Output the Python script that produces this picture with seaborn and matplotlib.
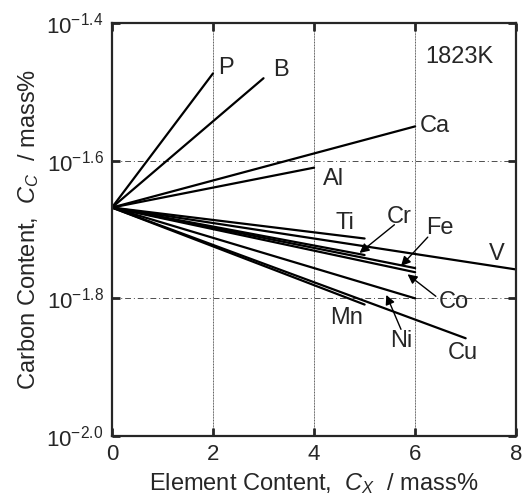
import pandas as pd
import seaborn as sns
import matplotlib.pyplot as plt

# Effect of element X on carbon solubility at 1823K (log10 of C mass%)
elements = ['P', 'B', 'Ca', 'Al', 'Ti', 'Cr', 'V', 'Fe', 'Co', 'Ni', 'Mn', 'Cu']
x_end = [2, 3, 6, 4, 5, 5, 8, 6, 6, 6, 5, 7]
logc_end = [-1.473, -1.480, -1.550, -1.610, -1.713, -1.737, -1.758, -1.756, -1.762, -1.800, -1.809, -1.858]
logc_start = -1.668

rows = []
for el, xe, ye in zip(elements, x_end, logc_end):
    rows.append({'element': el, 'x': 0, 'c': 10 ** logc_start})
    rows.append({'element': el, 'x': xe, 'c': 10 ** ye})
df = pd.DataFrame(rows)

sns.set_style('ticks')
plt.rcParams['font.family'] = ['Liberation Sans', 'DejaVu Sans']
plt.rcParams['mathtext.fontset'] = 'custom'
plt.rcParams['mathtext.rm'] = 'Liberation Sans'
plt.rcParams['mathtext.it'] = 'Liberation Sans:italic'

fig = plt.figure(figsize=(5.23, 5.04), dpi=100)
ax = fig.add_axes([0.214, 0.135, 0.773, 0.819])

sns.lineplot(data=df, x='x', y='c', units='element', estimator=None,
             color='black', lw=1.6, ax=ax)

ax.set_yscale('log')
ax.set_xlim(0, 8)
ax.set_ylim(10 ** -2.0, 10 ** -1.4)

yt = [-2.0, -1.8, -1.6, -1.4]
ax.set_yticks([10 ** v for v in yt])
ax.set_yticklabels([f'$10^{{{v:.1f}}}$' for v in yt])
ax.minorticks_off()
ax.set_xticks([0, 2, 4, 6, 8])

for xv in [2, 4, 6]:
    ax.axvline(xv, color='0.35', lw=0.7, ls=(0, (1, 0.6)), zorder=0)
for v in [-1.8, -1.6]:
    ax.axhline(10 ** v, color='0.3', lw=0.7, ls=(0, (6, 3, 1, 3)), zorder=0)

ax.tick_params(direction='in', length=6, width=2, labelsize=16, pad=6,
               top=True, right=True)
for s in ax.spines.values():
    s.set_linewidth(1.6)

ax.set_xlabel('Element Content,  $C_X$  / mass%', fontsize=17, labelpad=4)
ax.set_ylabel('Carbon Content,  $C_C$  / mass%', fontsize=17, labelpad=4)

fs = 17
labels = {
    'P': (2.26, -1.465), 'B': (3.34, -1.468), 'Ca': (6.1, -1.55),
    'Al': (4.18, -1.626), 'Ti': (4.61, -1.690), 'Cr': (5.69, -1.681),
    'Fe': (6.48, -1.6975), 'V': (7.62, -1.736), 'Co': (6.77, -1.806),
    'Ni': (5.72, -1.862), 'Mn': (4.64, -1.828), 'Cu': (6.95, -1.88),
}
for el, (lx, ly) in labels.items():
    ha = 'left' if el == 'Ca' or el == 'Al' else 'center'
    ax.text(lx, 10 ** ly, el, fontsize=fs, ha=ha, va='center')
ax.text(6.88, 10 ** -1.449, '1823K', fontsize=fs, ha='center', va='center')

arrows = [
    ((5.59, -1.693), (4.90, -1.734)),
    ((6.25, -1.711), (5.72, -1.753)),
    ((6.41, -1.797), (5.85, -1.765)),
    ((5.72, -1.845), (5.43, -1.795)),
]
for (x0, y0), (x1, y1) in arrows:
    ax.annotate('', xy=(x1, 10 ** y1), xytext=(x0, 10 ** y0),
                arrowprops=dict(arrowstyle='-|>', color='black', lw=1,
                                mutation_scale=14, shrinkA=0, shrinkB=0))

fig.savefig('out.png', dpi=100)
